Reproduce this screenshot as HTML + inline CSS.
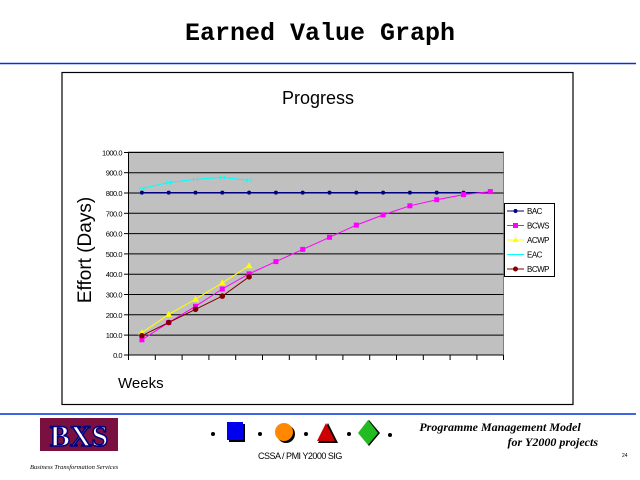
<!DOCTYPE html>
<html><head><meta charset="utf-8"><style>
html,body{margin:0;padding:0;background:#fff;}
svg{display:block;font-family:"Liberation Sans",sans-serif;}
</style></head><body>
<svg width="640" height="480" viewBox="0 0 640 480" xmlns="http://www.w3.org/2000/svg">
<rect width="640" height="480" fill="#fff"/>
<text x="320" y="40" text-anchor="middle" font-family="Liberation Mono, monospace" font-weight="bold" font-size="25">Earned Value Graph</text>
<line x1="0" y1="63.5" x2="636" y2="63.5" stroke="#0033dd" stroke-width="1.5"/>
<line x1="0" y1="414" x2="636" y2="414" stroke="#0033dd" stroke-width="1.5"/>
<rect x="62" y="72.5" width="511" height="332" fill="#fff" stroke="#000" stroke-width="1.2"/>
<text x="318" y="104" text-anchor="middle" font-size="18">Progress</text>
<rect x="128.5" y="152" width="375" height="203" fill="#c0c0c0" stroke="#808080" stroke-width="1"/>
<g stroke="#000" stroke-width="1">
<line x1="128.5" x2="503.5" y1="152.5" y2="152.5"/>
<line x1="128.5" x2="503.5" y1="172.7" y2="172.7"/>
<line x1="128.5" x2="503.5" y1="193" y2="193"/>
<line x1="128.5" x2="503.5" y1="213.3" y2="213.3"/>
<line x1="128.5" x2="503.5" y1="233.6" y2="233.6"/>
<line x1="128.5" x2="503.5" y1="253.9" y2="253.9"/>
<line x1="128.5" x2="503.5" y1="274.2" y2="274.2"/>
<line x1="128.5" x2="503.5" y1="294.5" y2="294.5"/>
<line x1="128.5" x2="503.5" y1="314.8" y2="314.8"/>
<line x1="128.5" x2="503.5" y1="335.1" y2="335.1"/>
<line x1="128.5" x2="503.5" y1="355" y2="355"/>
<line x1="128.5" x2="128.5" y1="152" y2="360"/>
<line x1="124" x2="128.5" y1="152.5" y2="152.5"/><line x1="124" x2="128.5" y1="172.7" y2="172.7"/><line x1="124" x2="128.5" y1="193" y2="193"/><line x1="124" x2="128.5" y1="213.3" y2="213.3"/><line x1="124" x2="128.5" y1="233.6" y2="233.6"/><line x1="124" x2="128.5" y1="253.9" y2="253.9"/><line x1="124" x2="128.5" y1="274.2" y2="274.2"/><line x1="124" x2="128.5" y1="294.5" y2="294.5"/><line x1="124" x2="128.5" y1="314.8" y2="314.8"/><line x1="124" x2="128.5" y1="335.1" y2="335.1"/><line x1="124" x2="128.5" y1="355" y2="355"/>
<line x1="155.3" x2="155.3" y1="355" y2="360"/><line x1="182.1" x2="182.1" y1="355" y2="360"/><line x1="208.9" x2="208.9" y1="355" y2="360"/><line x1="235.7" x2="235.7" y1="355" y2="360"/><line x1="262.5" x2="262.5" y1="355" y2="360"/><line x1="289.3" x2="289.3" y1="355" y2="360"/><line x1="316.1" x2="316.1" y1="355" y2="360"/><line x1="342.9" x2="342.9" y1="355" y2="360"/><line x1="369.7" x2="369.7" y1="355" y2="360"/><line x1="396.5" x2="396.5" y1="355" y2="360"/><line x1="423.3" x2="423.3" y1="355" y2="360"/><line x1="450.1" x2="450.1" y1="355" y2="360"/><line x1="476.9" x2="476.9" y1="355" y2="360"/><line x1="503.5" x2="503.5" y1="355" y2="360"/>
</g>
<g font-size="7.5" text-anchor="end" letter-spacing="-0.5">
<text x="122" y="155.5">1000.0</text><text x="122" y="175.7">900.0</text><text x="122" y="196">800.0</text><text x="122" y="216.3">700.0</text><text x="122" y="236.6">600.0</text><text x="122" y="256.9">500.0</text><text x="122" y="277.2">400.0</text><text x="122" y="297.5">300.0</text><text x="122" y="317.8">200.0</text><text x="122" y="338.1">100.0</text><text x="122" y="358">0.0</text>
</g>
<text transform="translate(91,250) rotate(-90)" text-anchor="middle" font-size="19">Effort (Days)</text>
<text x="118" y="388" font-size="15">Weeks</text>
<polyline fill="none" stroke="#00ffff" stroke-width="1" points="141.9,188.5 168.7,182.5 195.5,179.4 222.3,177.4 249.1,180.4"/>
<g stroke="#00ffff" stroke-width="1"><path d="M139.9,186.5v4M143.9,186.5v4M166.7,180.5v4M170.7,180.5v4M193.5,177.4v4M197.5,177.4v4M220.3,175.4v4M224.3,175.4v4M247.1,178.4v4M251.1,178.4v4"/></g>
<polyline fill="none" stroke="#000080" stroke-width="1.3" points="141.9,192.6 490.3,192.6"/>
<g fill="#000080">
<circle cx="141.9" cy="192.6" r="2"/><circle cx="168.7" cy="192.6" r="2"/><circle cx="195.5" cy="192.6" r="2"/><circle cx="222.3" cy="192.6" r="2"/><circle cx="249.1" cy="192.6" r="2"/><circle cx="275.9" cy="192.6" r="2"/><circle cx="302.7" cy="192.6" r="2"/><circle cx="329.5" cy="192.6" r="2"/><circle cx="356.3" cy="192.6" r="2"/><circle cx="383.1" cy="192.6" r="2"/><circle cx="409.9" cy="192.6" r="2"/><circle cx="436.7" cy="192.6" r="2"/><circle cx="463.5" cy="192.6" r="2"/>
</g>
<polyline fill="none" stroke="#ff00ff" stroke-width="1" points="141.9,339.8 168.7,322.5 195.5,306.3 222.3,289 249.1,273.8 275.9,261.6 302.7,249.4 329.5,237.3 356.3,225.1 383.1,214.9 409.9,205.8 436.7,199.7 463.5,194.6 490.3,191.6"/>
<g fill="#ff00ff">
<rect x="139.4" y="337.3" width="5" height="5"/><rect x="166.2" y="320" width="5" height="5"/><rect x="193" y="303.8" width="5" height="5"/><rect x="219.8" y="286.5" width="5" height="5"/><rect x="246.6" y="271.3" width="5" height="5"/><rect x="273.4" y="259.1" width="5" height="5"/><rect x="300.2" y="246.9" width="5" height="5"/><rect x="327" y="234.8" width="5" height="5"/><rect x="353.8" y="222.6" width="5" height="5"/><rect x="380.6" y="212.4" width="5" height="5"/><rect x="407.4" y="203.3" width="5" height="5"/><rect x="434.2" y="197.2" width="5" height="5"/><rect x="461" y="192.1" width="5" height="5"/><rect x="487.8" y="189.1" width="5" height="5"/>
</g>
<polyline fill="none" stroke="#ffff00" stroke-width="1" points="141.9,332.7 168.7,314.4 195.5,299.2 222.3,282.9 249.1,265.7"/>
<g fill="#ffff00">
<path d="M141.9,329.2l3.5,6h-7z"/><path d="M168.7,310.9l3.5,6h-7z"/><path d="M195.5,295.7l3.5,6h-7z"/><path d="M222.3,279.4l3.5,6h-7z"/><path d="M249.1,262.2l3.5,6h-7z"/>
</g>
<polyline fill="none" stroke="#800000" stroke-width="1" points="141.9,335.7 168.7,322.5 195.5,309.3 222.3,296.1 249.1,276.8"/>
<g fill="#800000">
<circle cx="141.9" cy="335.7" r="2.8"/><circle cx="168.7" cy="322.5" r="2.8"/><circle cx="195.5" cy="309.3" r="2.8"/><circle cx="222.3" cy="296.1" r="2.8"/><circle cx="249.1" cy="276.8" r="2.8"/>
</g>
<rect x="504.5" y="203.5" width="50" height="73" fill="#fff" stroke="#000" stroke-width="1"/>
<g font-size="8" letter-spacing="-0.5">
<line x1="507" x2="524" y1="211" y2="211" stroke="#000080"/><circle cx="515.5" cy="211" r="2" fill="#000080"/><text x="527" y="214">BAC</text>
<line x1="507" x2="524" y1="225.5" y2="225.5" stroke="#ff00ff"/><rect x="513" y="223" width="5" height="5" fill="#ff00ff"/><text x="527" y="228.5">BCWS</text>
<line x1="507" x2="524" y1="240" y2="240" stroke="#ffff00"/><path d="M515.5,237l3,5h-6z" fill="#ffff00"/><text x="527" y="243">ACWP</text>
<line x1="507" x2="524" y1="254.5" y2="254.5" stroke="#00ffff"/><text x="527" y="257.5">EAC</text>
<line x1="507" x2="524" y1="269" y2="269" stroke="#800000"/><circle cx="515.5" cy="269" r="2.5" fill="#800000"/><text x="527" y="272">BCWP</text>
</g>
<g>
<rect x="40" y="418" width="78" height="33" fill="#7a1040"/>
<text x="79" y="446" text-anchor="middle" font-family="Liberation Serif,serif" font-size="30" font-weight="bold" fill="#fff" stroke="#000080" stroke-width="1.5">BXS</text>
<text x="30" y="469" font-family="Liberation Serif,serif" font-size="6.5" font-style="italic">Business Transformation Services</text>
<circle cx="213" cy="434" r="2" fill="#000"/>
<rect x="229" y="424" width="16" height="18" fill="#000"/><rect x="227" y="422" width="16" height="18" fill="#0000ee"/>
<circle cx="260" cy="434" r="2" fill="#000"/>
<circle cx="286" cy="434" r="9" fill="#000"/><circle cx="284" cy="432" r="9" fill="#ff8800"/>
<circle cx="306" cy="434" r="2" fill="#000"/>
<path d="M328,423l10,20h-20z" fill="#000"/><path d="M326,423l9,18h-18z" fill="#cc0000"/>
<circle cx="349" cy="434" r="2" fill="#000"/>
<path d="M369,420l11,13l-11,13l-10,-13z" fill="#000"/><path d="M368,420l10,13l-10,12l-10,-12z" fill="#22bb22"/>
<circle cx="390" cy="435" r="2" fill="#000"/>
<text x="300" y="459" text-anchor="middle" font-size="9" letter-spacing="-0.5">CSSA / PMI Y2000 SIG</text>
<text x="500" y="431" text-anchor="middle" font-family="Liberation Serif,serif" font-style="italic" font-weight="bold" font-size="12">Programme Management Model</text>
<text x="598" y="446" text-anchor="end" font-family="Liberation Serif,serif" font-style="italic" font-weight="bold" font-size="12">for Y2000 projects</text>
<text x="622" y="457" font-size="5">24</text>
</g>
</svg>
</body></html>
